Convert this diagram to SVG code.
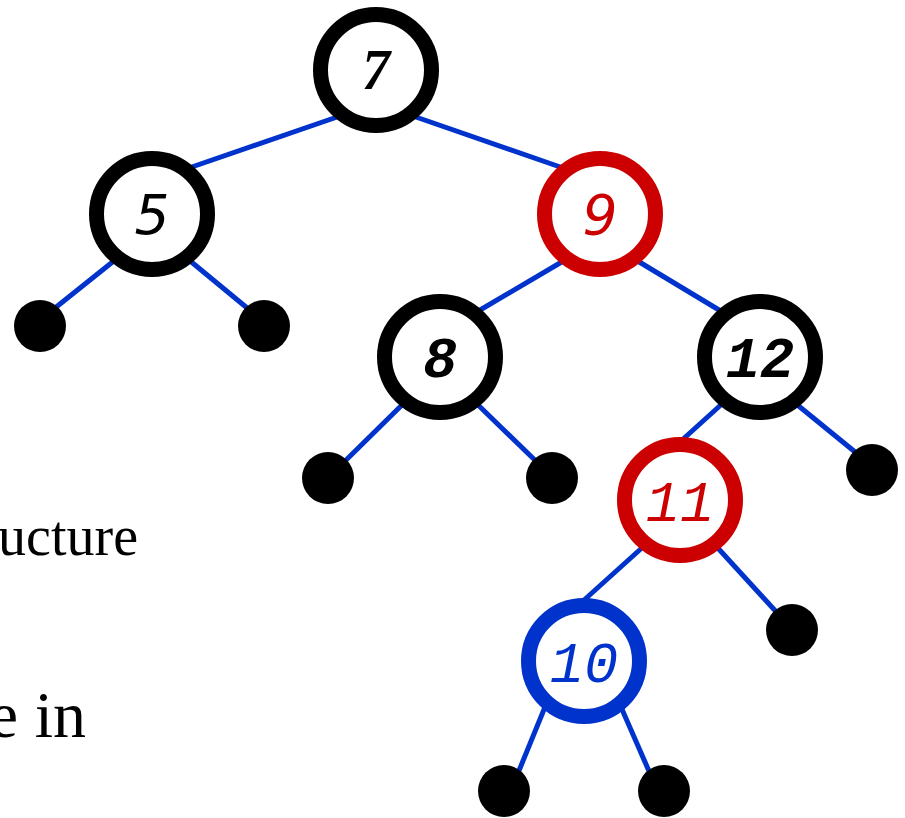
<svg xmlns="http://www.w3.org/2000/svg" width="905" height="818" viewBox="0 0 905 818">
  <style>
    .edge { stroke: #0033cc; stroke-width: 5; fill: none; }
    .node { fill: #ffffff; stroke-width: 15; }
    .leaf { fill: #000000; }
    .key { font-family: "Liberation Mono", "Courier New", monospace; font-weight: bold; font-style: italic; font-size: 57px; text-anchor: middle; }
    .key.thin { font-weight: normal; }
    .key.sans { font-family: "DejaVu Sans", "Liberation Sans", sans-serif; font-weight: normal; font-size: 55px; }
    .prose { font-family: "Liberation Serif", "Times New Roman", serif; fill: #000000; text-anchor: end; }
    .black { stroke: #000000; }
    .red { stroke: #cc0000; }
    .blue { stroke: #0033cc; }
  </style>

  <!-- body text running off the left margin -->
  <text class="prose" x="138" y="555" font-size="56">ucture</text>
  <text class="prose" x="86" y="737" font-size="66">e in</text>

  <!-- tree edges -->
  <g id="edges">
    <line class="edge" x1="340" y1="116" x2="186" y2="169"/>
    <line class="edge" x1="413" y1="116" x2="566" y2="169"/>
    <line class="edge" x1="115" y1="260" x2="50" y2="312"/>
    <line class="edge" x1="189" y1="260" x2="252" y2="312"/>
    <line class="edge" x1="565" y1="260" x2="475" y2="313"/>
    <line class="edge" x1="636" y1="260" x2="724" y2="313"/>
    <line class="edge" x1="404" y1="403" x2="340" y2="466"/>
    <line class="edge" x1="476" y1="403" x2="541" y2="466"/>
    <line class="edge" x1="723" y1="403" x2="681" y2="441"/>
    <line class="edge" x1="795" y1="403" x2="860" y2="456"/>
    <line class="edge" x1="644" y1="546" x2="583" y2="601"/>
    <line class="edge" x1="716" y1="546" x2="780" y2="616"/>
    <line class="edge" x1="545" y1="707" x2="516" y2="778"/>
    <line class="edge" x1="621" y1="707" x2="652" y2="778"/>
  </g>

  <!-- nil leaves -->
  <g id="leaves">
    <circle class="leaf" cx="40" cy="326" r="26"/>
    <circle class="leaf" cx="264" cy="326" r="26"/>
    <circle class="leaf" cx="328" cy="478" r="26"/>
    <circle class="leaf" cx="552" cy="478" r="26"/>
    <circle class="leaf" cx="872" cy="470" r="26"/>
    <circle class="leaf" cx="792" cy="630" r="26"/>
    <circle class="leaf" cx="504" cy="791" r="26"/>
    <circle class="leaf" cx="664" cy="791" r="26"/>
  </g>

  <g id="node-7">
    <circle class="node black" cx="376" cy="70" r="55.5"/>
    <text x="376" y="89" fill="#000000" text-anchor="middle" font-family="Liberation Serif, Times New Roman, serif" font-weight="bold" font-style="italic" font-size="56">7</text>
  </g>
  <g id="node-5">
    <circle class="node black" cx="152" cy="214" r="55.5"/>
    <text class="key sans" x="152" y="234" fill="#000000">5</text>
  </g>
  <g id="node-9">
    <circle class="node red" cx="600" cy="214" r="55.5"/>
    <text class="key sans" x="600" y="234" fill="#cc0000">9</text>
  </g>
  <g id="node-8">
    <circle class="node black" cx="440" cy="357" r="55.5"/>
    <text class="key" x="440" y="377" fill="#000000">8</text>
  </g>
  <g id="node-12">
    <circle class="node black" cx="760" cy="357" r="55.5"/>
    <text class="key" x="760" y="377" fill="#000000">12</text>
  </g>
  <g id="node-11">
    <circle class="node red" cx="680" cy="500" r="55.5"/>
    <text class="key thin" x="680" y="521" fill="#cc0000">11</text>
  </g>
  <g id="node-10">
    <circle class="node blue" cx="584" cy="661" r="55.5"/>
    <text class="key thin" x="584" y="682" fill="#0033cc">10</text>
  </g>
</svg>
